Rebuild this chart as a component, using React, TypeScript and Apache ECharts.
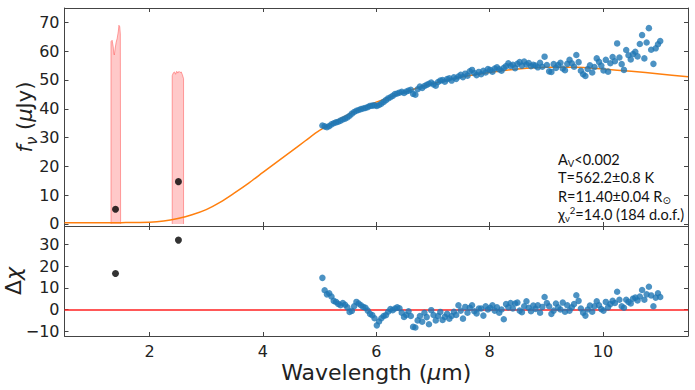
import React, { useEffect, useRef } from "react";
import * as echarts from "echarts";

// ---- data ----
const xTicks = [2, 4, 6, 8, 10];
const fluxTicks = [0, 10, 20, 30, 40, 50, 60, 70];
const residTicks = [-10, 0, 10, 20, 30];

const photWave = [1.4, 2.51];
const photFlux = [5.1, 14.7];
const photResid = [16.6, 32.0];

const band1 = [
  [1.32, 0], [1.32, 63.3], [1.34, 63.8], [1.36, 61.5], [1.37, 59.0], [1.38, 58.7],
  [1.39, 60.5], [1.41, 63.0], [1.43, 64.5], [1.45, 67.0], [1.46, 69.0], [1.475, 68.5],
  [1.485, 66.0], [1.49, 0],
];
const band2 = [
  [2.4, 0], [2.4, 51.5], [2.42, 52.5], [2.44, 52.8], [2.46, 52.0], [2.48, 53.0],
  [2.5, 52.4], [2.52, 53.0], [2.54, 52.6], [2.56, 52.8], [2.58, 51.8], [2.6, 50.5], [2.6, 0],
];

const modelWave = [0.5, 1.0, 1.5, 2.0, 2.25, 2.5, 2.75, 3.0, 3.25, 3.5, 3.75, 4.0, 4.25, 4.5, 4.75,
  5.0, 5.5, 6.0, 6.5, 7.0, 7.5, 8.0, 8.5, 9.0, 9.5, 10.0, 10.5, 11.0, 11.5];
const modelFlux = [0.45, 0.45, 0.47, 0.6, 1.0, 1.9, 3.2, 5.0, 7.6, 10.8, 14.2, 17.9, 21.6, 25.2, 28.9,
  32.5, 38.0, 42.3, 45.8, 48.8, 51.0, 52.6, 53.8, 54.4, 54.4, 53.8, 53.0, 52.1, 51.1];

const specWave = [
  5.05, 5.09, 5.13, 5.17, 5.21, 5.25, 5.29, 5.33, 5.37, 5.41,
  5.45, 5.49, 5.53, 5.57, 5.61, 5.65, 5.69, 5.73, 5.77, 5.81,
  5.85, 5.89, 5.93, 5.97, 6.01, 6.05, 6.09, 6.13, 6.17, 6.21,
  6.25, 6.29, 6.33, 6.37, 6.41, 6.45, 6.49, 6.53, 6.57, 6.61,
  6.65, 6.69, 6.73, 6.77, 6.81, 6.85, 6.89, 6.93, 6.97, 7.01,
  7.05, 7.09, 7.13, 7.17, 7.21, 7.25, 7.29, 7.33, 7.37, 7.41,
  7.45, 7.49, 7.53, 7.57, 7.61, 7.65, 7.69, 7.73, 7.77, 7.81,
  7.85, 7.89, 7.93, 7.97, 8.01, 8.05, 8.09, 8.13, 8.17, 8.21,
  8.25, 8.29, 8.33, 8.37, 8.41, 8.45, 8.49, 8.53, 8.57, 8.61,
  8.65, 8.69, 8.73, 8.77, 8.81, 8.85, 8.89, 8.93, 8.97, 9.01,
  9.05, 9.09, 9.13, 9.17, 9.21, 9.25, 9.29, 9.33, 9.37, 9.41,
  9.45, 9.49, 9.53, 9.57, 9.61, 9.65, 9.69, 9.73, 9.77, 9.81,
  9.85, 9.89, 9.93, 9.97, 10.01, 10.05, 10.09, 10.13, 10.17, 10.21,
  10.25, 10.29, 10.33, 10.37, 10.41, 10.45, 10.49, 10.53, 10.57, 10.61,
  10.65, 10.69, 10.73, 10.77, 10.81, 10.85, 10.89, 10.93, 10.97, 11.01,
];
const specFlux = [
  34.2, 33.9, 33.6, 34.0, 34.6, 35.0, 35.3, 35.5, 35.9, 36.3,
  36.6, 37.0, 37.6, 38.3, 38.9, 39.3, 39.6, 39.9, 40.1, 40.3,
  40.6, 41.0, 41.1, 41.2, 41.0, 41.3, 41.8, 42.4, 43.0, 43.6,
  44.0, 44.5, 45.1, 45.3, 45.6, 45.9, 45.5, 46.0, 46.3, 46.6,
  45.2, 44.9, 46.8, 47.7, 47.2, 47.9, 48.3, 48.7, 49.1, 48.5,
  48.0, 49.3, 49.8, 50.0, 49.4, 50.3, 50.6, 49.8, 50.9, 50.4,
  51.2, 51.8, 51.0, 52.2, 51.5, 53.0, 53.5, 52.4, 51.7, 52.8,
  52.0, 53.2, 52.6, 53.8, 53.5, 52.9, 54.0, 54.4, 53.7, 53.2,
  54.2, 54.8, 55.8, 54.9, 55.3, 54.1, 55.6, 56.2, 55.0, 56.4,
  55.4, 55.9, 54.8, 55.3, 55.0, 54.4, 56.0, 54.6, 58.1, 55.2,
  53.0, 52.8, 55.5, 54.2, 55.2, 56.0, 54.0, 53.4, 55.6, 57.0,
  55.8, 54.6, 58.7, 56.2, 53.2, 52.0, 51.4, 53.8, 55.1, 52.6,
  54.5, 57.5, 56.3, 55.0, 53.3, 57.0, 52.9, 55.8, 58.0, 56.5,
  62.7, 57.8, 55.5, 53.5, 60.4, 58.6, 57.1, 59.0, 59.8, 58.2,
  62.5, 65.6, 57.5, 63.0, 68.0, 60.5, 55.6, 61.0, 62.4, 63.5,
];
const specResid = [
  14.6, 8.9, 7.0, 7.5, 6.0, 4.0, 3.5, 2.6, 2.0, 3.0,
  2.2, 1.0, -1.1, -0.6, 1.5, 3.5, 2.8, 2.0, 1.2, 0.8,
  -0.5, -2.0, -2.6, -4.0, -7.3, -5.5, -4.0, -3.0, -2.6, -1.0,
  0.2, -0.3, 0.5, 1.0, 0.6, -1.5, -3.4, -2.5, -0.8, -3.0,
  -8.0, -8.3, -5.0, -3.0, -5.6, -1.5, -3.5, -6.8, -0.3, -2.5,
  -5.0, -3.0, -1.1, -4.8, -3.4, -2.0, -4.2, -3.0, -1.0, -2.5,
  2.0, -0.5, -4.2, 1.2, -1.5, 0.8, 2.0, -0.8, -1.8, 0.5,
  0.5, -2.8, 1.5, 0.0, 0.8, 2.0, -0.5, 1.0, -1.5, 0.0,
  -4.5, 2.5, 1.0, 3.0, 0.5, 2.8, 3.2, -0.5, -1.2, 1.5,
  3.8, 0.8, -0.8, 1.8, 0.3, 2.0, -1.5, 1.2, 5.8, 3.0,
  1.5, -2.0, -0.5, 2.8, 1.0, 0.0, 3.2, -1.0, 2.0, -0.5,
  1.0, 2.5, 6.6, 4.0, 0.5, -1.5, -2.8, 0.0, 1.8, -1.0,
  1.5, 3.8, 2.0, 0.2, -0.5, 3.5, 1.0, 2.5, 4.0, 3.0,
  8.2, 4.5, 1.5, 0.8, 4.5, 3.5, 2.8, 5.0, 5.5, 4.2,
  6.0, 9.0, 4.5, 7.0, 10.5, 6.5, 1.5, 5.5, 7.5, 5.8,
];

const zip = (a: number[], b: number[]) => a.map((v, i) => [v, b[i]]);

const AXIS_COLOR = "#444";
const TEXT_COLOR = "#222";
const FONT = "DejaVu Sans";

function xAx(grid: number, pos: "top" | "bottom", labels: boolean, name?: any) {
  return {
    type: "value",
    gridIndex: grid,
    position: pos,
    min: 0.5,
    max: 11.5,
    splitLine: { show: false },
    axisLine: { show: true, onZero: false, lineStyle: { color: AXIS_COLOR, width: 1 } },
    axisTick: { show: true, inside: true, length: 4, customValues: xTicks, lineStyle: { color: AXIS_COLOR } },
    axisLabel: {
      show: labels,
      customValues: xTicks,
      fontSize: 16,
      fontFamily: FONT,
      color: TEXT_COLOR,
      margin: 7,
    },
    nameMoveOverlap: false,
    ...(name || {}),
  };
}

function yAx(grid: number, pos: "left" | "right", min: number, max: number, ticks: number[], labels: boolean, name?: any) {
  return {
    type: "value",
    gridIndex: grid,
    position: pos,
    min,
    max,
    splitLine: { show: false },
    axisLine: { show: true, onZero: false, lineStyle: { color: AXIS_COLOR, width: 1 } },
    axisTick: { show: true, inside: true, length: 4, customValues: ticks, lineStyle: { color: AXIS_COLOR } },
    axisLabel: {
      show: labels,
      customValues: ticks,
      fontSize: 16,
      fontFamily: FONT,
      color: TEXT_COLOR,
      margin: 5,
      formatter: (v: number) => (v < 0 ? "\u2212" + Math.abs(v) : String(v)),
    },
    nameMoveOverlap: false,
    ...(name || {}),
  };
}

export default function App() {
  const ref = useRef<HTMLDivElement>(null);
  useEffect(() => {
    if (!ref.current) return;
    const chart = echarts.init(ref.current, undefined, { renderer: "svg" });
    const annFont = { fontFamily: "Lato", fontSize: 14.5, fill: "#111", lineHeight: 18 };
    const sub = { fontFamily: "Lato", fontSize: 9.5, fill: "#111", lineHeight: 9, verticalAlign: "bottom" };
    const sup = { fontFamily: "Lato", fontSize: 9.5, fill: "#111", lineHeight: 9, verticalAlign: "top" };
    chart.setOption({
      animation: false,
      backgroundColor: "#fff",
      grid: [
        { left: 64.5, right: 7, top: 8, height: 218, outerBoundsMode: "none", containLabel: false },
        { left: 64.5, right: 7, top: 226, height: 110, outerBoundsMode: "none", containLabel: false },
      ],
      xAxis: [
        xAx(0, "bottom", false),
        xAx(0, "top", false),
        xAx(1, "bottom", true, {
          name: "Wavelength ({i|μ}m)",
          nameLocation: "middle",
          nameGap: 25,
          nameTextStyle: {
            fontSize: 22,
            fontFamily: FONT,
            color: TEXT_COLOR,
            rich: { i: { fontSize: 22, fontStyle: "italic", fontFamily: FONT, color: TEXT_COLOR } },
          },
        }),
        xAx(1, "top", false),
      ],
      yAxis: [
        yAx(0, "left", -0.7, 75, fluxTicks, true, {
          name: "{i|f}{s|ν} ({i|μ}Jy)",
          nameLocation: "middle",
          nameGap: 25,
          nameRotate: 90,
          nameTextStyle: {
            fontSize: 21,
            fontFamily: FONT,
            color: TEXT_COLOR,
            lineHeight: 30,
            rich: {
              i: { fontSize: 21, fontStyle: "italic", fontFamily: FONT, color: TEXT_COLOR, lineHeight: 30 },
              s: { fontSize: 15, fontStyle: "italic", fontFamily: FONT, color: TEXT_COLOR, lineHeight: 16, verticalAlign: "bottom" },
            },
          },
        }),
        yAx(0, "right", -0.7, 75, fluxTicks, false),
        yAx(1, "left", -12.2, 38.5, residTicks, true, {
          name: "Δ{i|χ}",
          nameLocation: "middle",
          nameGap: 40,
          nameRotate: 90,
          nameTextStyle: {
            fontSize: 22,
            fontFamily: FONT,
            color: TEXT_COLOR,
            rich: { i: { fontSize: 22, fontStyle: "italic", fontFamily: FONT, color: TEXT_COLOR } },
          },
        }),
        yAx(1, "right", -12.2, 38.5, residTicks, false),
      ],
      series: [
        {
          type: "line",
          xAxisIndex: 0,
          yAxisIndex: 0,
          data: band1,
          symbol: "none",
          lineStyle: { color: "rgba(255,60,60,0.45)", width: 1 },
          areaStyle: { color: "rgba(255,0,0,0.3)" },
          z: 1,
        },
        {
          type: "line",
          xAxisIndex: 0,
          yAxisIndex: 0,
          data: band2,
          symbol: "none",
          lineStyle: { color: "rgba(255,60,60,0.45)", width: 1 },
          areaStyle: { color: "rgba(255,0,0,0.3)" },
          z: 1,
        },
        {
          type: "line",
          xAxisIndex: 0,
          yAxisIndex: 0,
          data: zip(modelWave, modelFlux),
          symbol: "none",
          smooth: 0.3,
          lineStyle: { color: "#ff7f0e", width: 1.5 },
          z: 2,
        },
        {
          type: "scatter",
          xAxisIndex: 0,
          yAxisIndex: 0,
          data: zip(specWave, specFlux),
          symbolSize: 6.5,
          itemStyle: { color: "#1f77b4" },
          z: 3,
        },
        {
          type: "scatter",
          xAxisIndex: 0,
          yAxisIndex: 0,
          data: zip(photWave, photFlux),
          symbolSize: 7,
          itemStyle: { color: "#000" },
          z: 4,
        },
        {
          type: "scatter",
          xAxisIndex: 2,
          yAxisIndex: 2,
          data: zip(specWave, specResid),
          symbolSize: 6.5,
          itemStyle: { color: "#1f77b4" },
          z: 3,
          markLine: {
            silent: true,
            symbol: "none",
            label: { show: false },
            lineStyle: { color: "#ff2020", width: 1.5, type: "solid" },
            data: [{ yAxis: 0 }],
            z: 2,
          },
        },
        {
          type: "scatter",
          xAxisIndex: 2,
          yAxisIndex: 2,
          data: zip(photWave, photResid),
          symbolSize: 7,
          itemStyle: { color: "#000" },
          z: 4,
        },
      ],
      graphic: [
        {
          type: "text",
          x: 558,
          y: 159,
          style: {
            text: "A{s|V}<0.002",
            ...annFont,
            verticalAlign: "middle",
            rich: { s: sub },
          },
        },
        {
          type: "text",
          x: 558,
          y: 177.5,
          style: { text: "T=562.2±0.8 K", ...annFont, verticalAlign: "middle" },
        },
        {
          type: "text",
          x: 558,
          y: 196.5,
          style: {
            text: "R=11.40±0.04 R{o|⊙}",
            ...annFont,
            verticalAlign: "middle",
            rich: { o: { fontFamily: "DejaVu Sans", fontSize: 10, fill: "#111", lineHeight: 10, verticalAlign: "bottom" } },
          },
        },
        {
          type: "text",
          x: 558,
          y: 214.5,
          style: {
            text: "χ{s|ν}{p|2}=14.0 (184 d.o.f.)",
            ...annFont,
            verticalAlign: "middle",
            rich: { s: sub, p: sup },
          },
        },
      ],
    });
    return () => chart.dispose();
  }, []);
  return <div ref={ref} style={{ width: 695, height: 390, position: "absolute", left: 0, top: 0 }} />;
}
